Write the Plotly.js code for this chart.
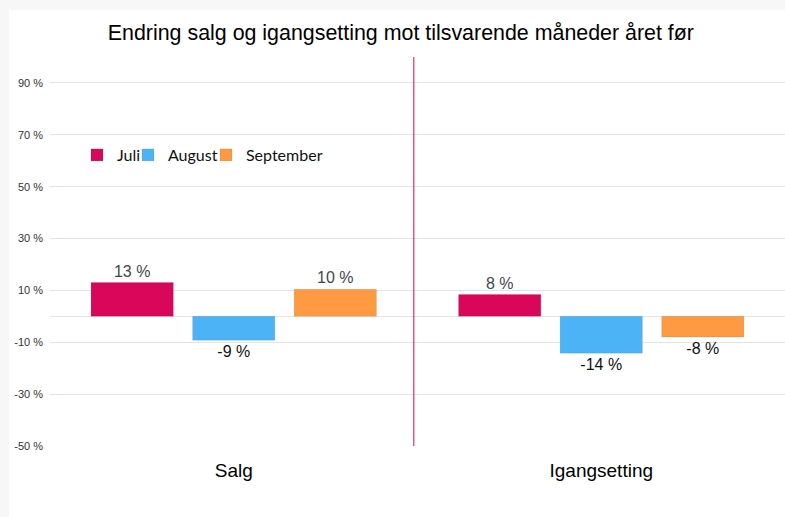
<!DOCTYPE html>
<html>
<head>
<meta charset="utf-8">
<script src="https://cdn.plot.ly/plotly-3.0.1.min.js"></script>
<style>
  html, body { margin: 0; padding: 0; background: #f7f7f7; width: 785px; height: 517px; overflow: hidden; }
  #chart { position: absolute; left: 9px; top: 10px; width: 776px; height: 507px; background: #ffffff; }
</style>
</head>
<body>
<div id="chart"></div>
<script>
const categories = ["Salg", "Igangsetting"];
const seriesNames = ["Juli", "August", "September"];
const juli = [13.0, 8.4];
const august = [-9.2, -14.2];
const september = [10.4, -8.0];
const yTickValues = [-50, -30, -10, 10, 30, 50, 70, 90];

const seriesValues = [juli, august, september];
const seriesColors = ["#d9065a", "#4db3f7", "#ff9a42"];
const legendWidths = [6, 33, 80];

function labelColors(vals) {
  return vals.map(v => v >= 0 ? "#3f4751" : "#111111");
}

const traces = seriesNames.map((name, i) => ({
  type: "bar",
  name: name,
  x: categories,
  y: seriesValues[i],
  marker: { color: seriesColors[i], line: { color: "rgba(0,0,0,0.08)", width: 1 } },
  text: seriesValues[i].map(v => Math.round(v) + " %"),
  texttemplate: "%{text}",
  textposition: "outside",
  cliponaxis: false,
  legendwidth: legendWidths[i],
  textfont: { family: "Liberation Sans, Arial, sans-serif", size: 16, color: labelColors(seriesValues[i]) },
  hoverinfo: "x+y+name"
}));

const layout = {
  width: 776,
  height: 507,
  paper_bgcolor: "#ffffff",
  plot_bgcolor: "#ffffff",
  margin: { l: 41, r: 0, t: 47, b: 71 },
  title: {
    text: "Endring salg og igangsetting mot tilsvarende måneder året før",
    font: { family: "Liberation Sans, Arial, sans-serif", size: 21.4, color: "#000000" },
    x: 0.505, xanchor: "center", y: 0.955, yanchor: "middle"
  },
  barmode: "group",
  bargap: 0.171,
  bargroupgap: 0.19,
  showlegend: true,
  legend: {
    orientation: "h",
    x: 0.0367, xanchor: "left",
    y: 0.748, yanchor: "middle",
    font: { family: "Lato, sans-serif", size: 16, color: "#111111" },
    bgcolor: "rgba(0,0,0,0)",
    traceorder: "normal"
  },
  xaxis: {
    type: "category",
    range: [-0.5, 1.5],
    showgrid: false,
    zeroline: false,
    showline: false,
    ticks: "",
    tickfont: { family: "Liberation Sans, Arial, sans-serif", size: 19, color: "#000000" },
    ticklabelstandoff: 11
  },
  yaxis: {
    range: [-50, 100],
    tickmode: "array",
    tickvals: yTickValues,
    ticktext: yTickValues.map(v => v + " %"),
    showgrid: true,
    gridcolor: "#e3e4e8",
    gridwidth: 1,
    zeroline: true,
    zerolinecolor: "#e3e4e8",
    zerolinewidth: 1,
    showline: false,
    ticks: "",
    tickfont: { family: "Liberation Sans, Arial, sans-serif", size: 11, color: "#333333" },
    ticklabelstandoff: 6
  },
  shapes: [{
    type: "line",
    xref: "x", yref: "paper",
    x0: 0.49, x1: 0.49, y0: 0, y1: 1,
    line: { color: "#d9065a", width: 1 }
  }]
};

Plotly.newPlot("chart", traces, layout, { displayModeBar: false, staticPlot: true });
</script>
</body>
</html>
